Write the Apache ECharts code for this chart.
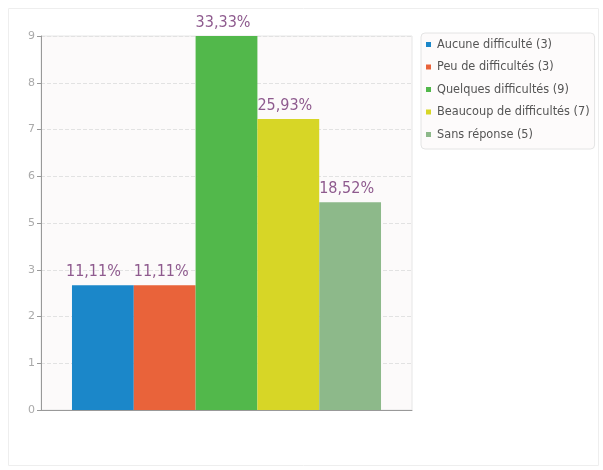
<!DOCTYPE html>
<html>
<head>
<meta charset="utf-8">
<script src="https://cdn.jsdelivr.net/npm/echarts@6/dist/echarts.min.js"></script>
<style>
html,body{margin:0;padding:0;background:#fff;}
#c{width:603px;height:470px;}
</style>
</head>
<body>
<div id="c"></div>
<script>
var seriesNames = ["Aucune difficulté (3)", "Peu de difficultés (3)", "Quelques difficultés (9)", "Beaucoup de difficultés (7)", "Sans réponse (5)"];
var seriesValues = [3, 3, 9, 7, 5];
var percentLabels = ["11,11%", "11,11%", "33,33%", "25,93%", "18,52%"];
var colors = ["#1b87c9", "#e9633a", "#52b84b", "#d7d626", "#8db98a"];
var categories = [""];

var chart = echarts.init(document.getElementById('c'));
var series = seriesNames.map(function (name, i) {
  return {
    name: name,
    type: 'bar',
    data: [seriesValues[i]],
    barGap: '0%',
    barCategoryGap: '16.7%',
    itemStyle: { color: colors[i] },
    label: {
      show: true,
      position: [i === 0 ? -6 : 0, -5],
      align: 'left',
      verticalAlign: 'bottom',
      formatter: percentLabels[i],
      color: '#8e5a8e',
      fontSize: 16,
      fontFamily: 'Liberation Sans Narrow, DejaVu Sans Condensed, Liberation Sans, sans-serif'
    }
  };
});

chart.setOption({
  animation: false,
  color: colors,
  graphic: [{
    type: 'rect',
    shape: { x: 8.5, y: 8.5, width: 590, height: 457 },
    style: { fill: 'none', stroke: '#eeeeee', lineWidth: 1 },
    silent: true, z: -10
  }],
  grid: { left: 41, right: 191, top: 36, bottom: 60, show: true, backgroundColor: '#fcfafa', borderColor: '#e6e6e6', borderWidth: 1 },
  legend: {
    orient: 'vertical',
    left: 421,
    top: 33,
    padding: [5, 5, 8, 5],
    itemWidth: 5,
    itemHeight: 5,
    itemGap: 9.5,
    icon: 'rect',
    backgroundColor: '#fdfbfb',
    borderColor: '#e4e4e4',
    borderWidth: 1,
    borderRadius: 4,
    textStyle: { color: '#555', fontSize: 12.6, fontFamily: 'DejaVu Sans Condensed, DejaVu Sans, sans-serif', padding: [0, 0, 0, 1] },
    data: seriesNames
  },
  xAxis: {
    type: 'category',
    data: categories,
    axisLine: { lineStyle: { color: '#999' } },
    axisTick: { show: false },
    axisLabel: { show: false }
  },
  yAxis: {
    type: 'value',
    min: 0,
    max: 9,
    interval: 1.125,
    axisLine: { show: true, lineStyle: { color: '#999' } },
    axisTick: { show: true, length: 4, lineStyle: { color: '#999' } },
    axisLabel: { color: '#aaa', fontSize: 11, margin: 6, fontFamily: 'DejaVu Sans, sans-serif',
      formatter: function (v) { return String(Math.round(v)); } },
    splitLine: { lineStyle: { color: '#e2e2e2', type: 'dashed' } }
  },
  series: series
});
</script>
</body>
</html>
